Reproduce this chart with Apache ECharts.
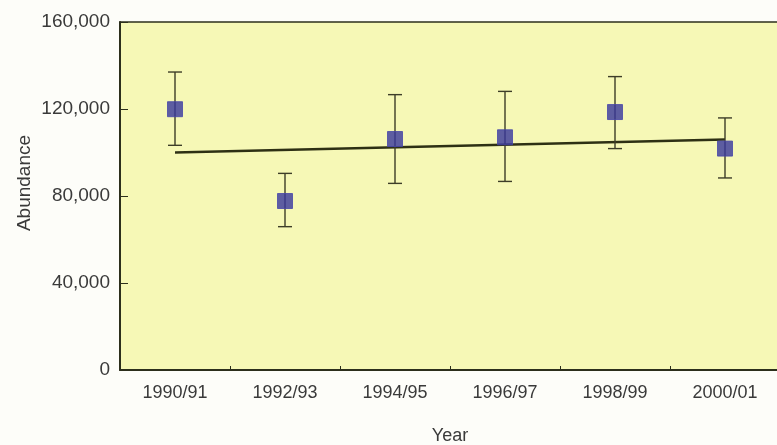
<!DOCTYPE html>
<html>
<head>
<meta charset="utf-8">
<script src="https://cdn.jsdelivr.net/npm/echarts@6/dist/echarts.min.js"></script>
<style>
  html, body { margin: 0; padding: 0; background: #fdfdf9; }
  #chart { width: 777px; height: 445px; }
</style>
</head>
<body>
<div id="chart"></div>
<script>
// Survey seasons
const years = ['1990/91', '1992/93', '1994/95', '1996/97', '1998/99', '2000/01'];
// Abundance estimates and their confidence limits
const abundance = [119900, 77700, 106200, 107000, 118600, 101800];
const lowerLimit = [103300, 65900, 85800, 86700, 101800, 88300];
const upperLimit = [137000, 90400, 126600, 128100, 134900, 115900];
// Fitted trend, first and last season
const trendYears = ['1990/91', '2000/01'];
const trendValues = [100000, 106000];
// Value axis ticks
const yTicks = [0, 40000, 80000, 120000, 160000];

const inkColor = '#2c2f1c';
const textColor = '#3a3a3a';
const markColor = '#37369c';
const font = 'Liberation Sans';

const chart = echarts.init(document.getElementById('chart'));

const errorData = years.map((y, i) => [i, lowerLimit[i], upperLimit[i]]);

chart.setOption({
  animation: false,
  grid: {
    left: 120, right: -3, top: 22, bottom: 75,
    outerBoundsMode: 'none',
    show: true,
    backgroundColor: '#f6f8b6',
    borderWidth: 0
  },
  xAxis: [
    {
      type: 'category',
      data: years,
      boundaryGap: true,
      name: 'Year',
      nameLocation: 'middle',
      nameGap: 57,
      nameMoveOverlap: false,
      nameTextStyle: { fontFamily: font, fontSize: 18, color: textColor, verticalAlign: 'top' },
      axisLine: { lineStyle: { color: inkColor, width: 2 } },
      axisTick: { show: true, inside: true, length: 4, lineStyle: { color: inkColor } },
      axisLabel: { fontFamily: font, fontSize: 18, color: textColor, margin: 14 }
    },
    {
      // plain rule along the top of the plotting area
      type: 'category',
      data: years,
      position: 'top',
      axisLine: { show: true, lineStyle: { color: inkColor, width: 1.5 } },
      axisTick: { show: false },
      axisLabel: { show: false }
    }
  ],
  yAxis: {
    type: 'value',
    min: yTicks[0],
    max: yTicks[yTicks.length - 1],
    interval: yTicks[1] - yTicks[0],
    name: 'Abundance',
    nameLocation: 'middle',
    nameGap: 86,
    nameRotate: 90,
    nameMoveOverlap: false,
    nameTextStyle: { fontFamily: font, fontSize: 19, color: textColor, padding: [0, 0, 0, 26] },
    axisLine: { show: true, lineStyle: { color: inkColor, width: 2 } },
    axisTick: { show: true, inside: true, length: 8, lineStyle: { color: inkColor } },
    splitLine: { show: false },
    axisLabel: {
      fontFamily: font, fontSize: 19, color: textColor, margin: 10,
      formatter: v => v.toLocaleString('en-US')
    }
  },
  series: [
    {
      type: 'line',
      data: trendYears.map((y, i) => [y, trendValues[i]]),
      symbol: 'none',
      lineStyle: { color: '#2e3014', width: 2.4 },
      z: 2
    },
    {
      type: 'custom',
      data: errorData,
      renderItem: (params, api) => {
        const x = api.value(0);
        const lo = api.coord([x, api.value(1)]);
        const hi = api.coord([x, api.value(2)]);
        const cap = 7;
        const style = { stroke: '#3d3d28', lineWidth: 1.4 };
        return {
          type: 'group',
          children: [
            { type: 'line', shape: { x1: lo[0], y1: lo[1], x2: hi[0], y2: hi[1] }, style },
            { type: 'line', shape: { x1: lo[0] - cap, y1: lo[1], x2: lo[0] + cap, y2: lo[1] }, style },
            { type: 'line', shape: { x1: hi[0] - cap, y1: hi[1], x2: hi[0] + cap, y2: hi[1] }, style }
          ]
        };
      },
      z: 3
    },
    {
      type: 'scatter',
      data: abundance,
      symbol: 'rect',
      symbolSize: 15,
      itemStyle: { color: markColor, borderColor: '#4746aa', borderWidth: 1 },
      z: 4
    }
  ]
});
</script>
</body>
</html>
